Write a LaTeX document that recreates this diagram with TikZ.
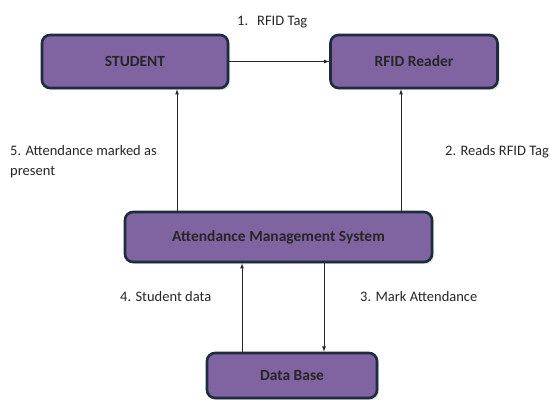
\documentclass[tikz,border=0pt]{standalone}
\usepackage{fontspec}
\setmainfont{Carlito}
\usetikzlibrary{arrows, shadows}

\definecolor{boxfill}{HTML}{8064A2}
\definecolor{boxline}{HTML}{1E2D3E}

\tikzset{
	entity/.style={draw=boxline, line width=2.6pt, fill=boxfill, rounded corners=8pt,
		drop shadow={shadow xshift=2pt, shadow yshift=-2pt, opacity=0.25},
		font=\fontsize{15.5}{18}\selectfont\bfseries, text=black!85},
	flow/.style={-latex, line width=0.8pt, black!85},
	lbl/.style={font=\fontsize{14.5}{20}\selectfont, text=black!85, inner sep=0pt}
}

\begin{document}
\begin{tikzpicture}[x=1pt, y=-1pt]
	\useasboundingbox (0,0) rectangle (550,401);

	% boxes
	\node[entity, minimum width=186pt, minimum height=53pt] (stu) at (135,61.5) {STUDENT};
	\node[entity, minimum width=167pt, minimum height=53pt] (rdr) at (414,61.5) {RFID Reader};
	\node[entity, minimum width=307pt, minimum height=50pt] (ams) at (278.5,237) {Attendance Management System};
	\node[entity, minimum width=170pt, minimum height=45pt] (db) at (292,375.5) {Data Base};

	% labels
	\node[lbl, anchor=west] (l1) at (237,22) {1.\hspace{9pt}RFID Tag};
	\node[lbl, anchor=west, align=left] (l5) at (10,162) {5. Attendance marked as\\present};
	\node[lbl, anchor=west] (l2) at (445,152) {2. Reads RFID Tag};
	\node[lbl, anchor=west] (l4) at (120,297) {4. Student data};
	\node[lbl, anchor=west] (l3) at (360,297) {3. Mark Attendance};

	% connectors
	\draw[flow] (stu.east) -- (rdr.west);
	\draw[flow] (ams.north -| 177,0) -- (stu.south -| 177,0);
	\draw[flow] (ams.north -| 401,0) -- (rdr.south -| 401,0);
	\draw[flow] (db.north -| 242,0) -- (ams.south -| 242,0);
	\draw[flow] (ams.south -| 324,0) -- (db.north -| 324,0);
\end{tikzpicture}
\end{document}
